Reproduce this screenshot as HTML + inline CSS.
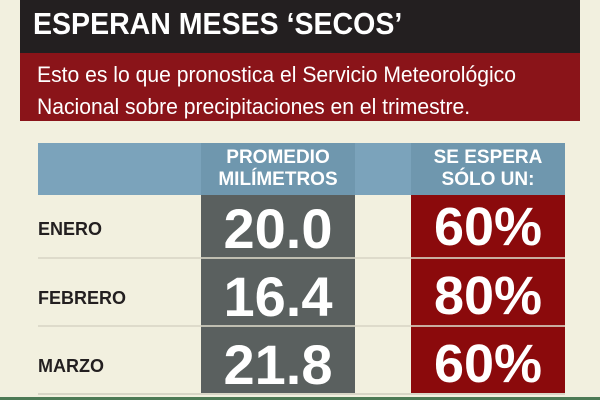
<!DOCTYPE html>
<html><head><meta charset="utf-8"><style>
body{margin:0;width:600px;height:400px;overflow:hidden;background:#f2f0df;font-family:"Liberation Sans",sans-serif;position:relative}
div{position:absolute}
.t{white-space:nowrap;transform-origin:left top}
</style></head><body>
<div style="left:20px;top:0;width:560px;height:53px;background:#231f20"></div>
<div class="t" style="left:33px;top:6px;font-size:31px;font-weight:bold;color:#fff;transform:scaleX(0.92)">ESPERAN MESES ‘SECOS’</div>
<div style="left:20px;top:53px;width:560px;height:68px;background:#8a1419"></div>
<div class="t" style="left:37px;top:59px;font-size:22px;line-height:32px;color:#fff;transform:scaleX(0.96)">Esto es lo que pronostica el Servicio Meteorológico<br>Nacional sobre precipitaciones en el trimestre.</div>
<div style="left:38px;top:143px;width:527px;height:52px;background:#7ba3bb"></div>
<div style="left:201px;top:143px;width:154px;height:52px;background:#6f97ae"></div>
<div style="left:411px;top:143px;width:154px;height:52px;background:#6f97ae"></div>
<div style="left:201px;top:195px;width:154px;height:200px;background:#5a605f"></div>
<div style="left:411px;top:195px;width:154px;height:200px;background:#8b0a0c"></div>
<div style="left:38px;top:257px;width:527px;height:2px;background:#d8d6c6;opacity:.8"></div>
<div style="left:38px;top:325px;width:527px;height:2px;background:#d8d6c6;opacity:.8"></div>
<div style="left:38px;top:393px;width:527px;height:2px;background:#d8d6c6"></div>
<div style="left:0;top:397px;width:600px;height:3px;background:#4d7a55"></div>
<div class="t" style="left:201px;width:154px;top:147px;font-size:19px;line-height:22px;font-weight:bold;color:#fff;text-align:center">PROMEDIO<br>MILÍMETROS</div>
<div class="t" style="left:411px;width:154px;top:147px;font-size:19px;line-height:22px;font-weight:bold;color:#fff;text-align:center">SE ESPERA<br>SÓLO UN:</div>
<div class="t" style="left:38px;top:219px;font-size:18px;font-weight:bold;color:#231f20">ENERO</div>
<div class="t" style="left:38px;top:288px;font-size:18px;font-weight:bold;color:#231f20">FEBRERO</div>
<div class="t" style="left:38px;top:356px;font-size:18px;font-weight:bold;color:#231f20">MARZO</div>
<div class="t" style="left:201px;width:154px;top:196px;font-size:56px;font-weight:bold;color:#fff;text-align:center">20.0</div>
<div class="t" style="left:201px;width:154px;top:264px;font-size:56px;font-weight:bold;color:#fff;text-align:center">16.4</div>
<div class="t" style="left:201px;width:154px;top:332px;font-size:56px;font-weight:bold;color:#fff;text-align:center">21.8</div>
<div class="t" style="left:411px;width:154px;top:196px;font-size:54px;font-weight:bold;color:#fff;text-align:center">60%</div>
<div class="t" style="left:411px;width:154px;top:265px;font-size:54px;font-weight:bold;color:#fff;text-align:center">80%</div>
<div class="t" style="left:411px;width:154px;top:333px;font-size:54px;font-weight:bold;color:#fff;text-align:center">60%</div>
</body></html>
